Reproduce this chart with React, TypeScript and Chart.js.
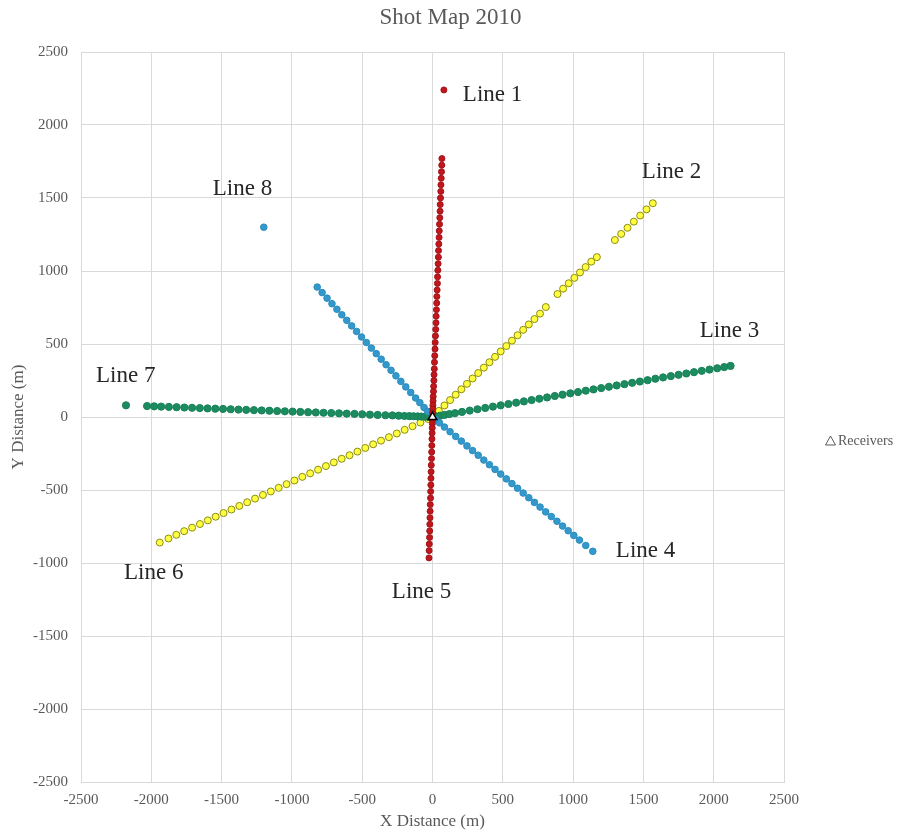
import React, { useEffect, useRef } from "react";
import { Chart, registerables } from "chart.js";

Chart.register(...registerables);

// ---- Data (metres) ----
const line1X = [81, 67, 66, 64, 62, 60, 59, 57, 55, 54, 52, 50, 48, 47, 45, 43, 42, 40, 38, 36, 35, 33, 31, 30, 28, 26, 25, 23, 21, 19, 18, 16, 14, 13, 11, 10, 8, 7, 5, 4, 3, 2, 1];
const line1Y = [2240, 1770, 1725, 1680, 1635, 1590, 1545, 1500, 1455, 1410, 1365, 1320, 1275, 1230, 1185, 1140, 1095, 1050, 1005, 960, 915, 870, 825, 780, 735, 690, 645, 600, 555, 510, 465, 420, 375, 330, 290, 250, 210, 175, 140, 110, 80, 55, 30];

const line2X = [45, 85, 125, 165, 205, 245, 285, 325, 365, 405, 445, 485, 525, 565, 605, 645, 685, 725, 765, 806, 889, 929, 969, 1009, 1049, 1089, 1129, 1169, 1297, 1342, 1387, 1432, 1477, 1522, 1567];
const line2Y = [42, 79, 116, 153, 190, 227, 264, 301, 338, 375, 412, 449, 486, 523, 560, 597, 634, 671, 708, 753, 842, 879, 916, 953, 990, 1027, 1064, 1095, 1212, 1254, 1296, 1338, 1380, 1422, 1464];

const line3X = [25, 55, 85, 120, 160, 210, 265, 320, 375, 430, 485, 540, 595, 650, 705, 760, 815, 870, 925, 980, 1035, 1090, 1145, 1200, 1255, 1310, 1365, 1420, 1475, 1530, 1585, 1640, 1695, 1750, 1805, 1860, 1915, 1970, 2025, 2075, 2120];
const line3Y = [4, 9, 14, 20, 26, 35, 44, 53, 62, 71, 80, 89, 98, 107, 116, 125, 134, 144, 153, 162, 171, 180, 189, 198, 207, 216, 225, 234, 243, 252, 262, 271, 280, 289, 298, 307, 316, 325, 334, 342, 350];

const line4X = [20, 50, 85, 125, 165, 205, 245, 285, 325, 365, 405, 445, 485, 525, 565, 605, 645, 685, 725, 765, 805, 845, 885, 925, 965, 1005, 1045, 1090, 1140];
const line4Y = [-16, -40, -69, -101, -133, -165, -198, -230, -262, -295, -327, -359, -391, -424, -456, -488, -521, -553, -585, -617, -650, -682, -714, -747, -779, -811, -843, -880, -920];

const line5X = [-1, -1, -2, -3, -4, -5, -6, -7, -9, -10, -11, -12, -13, -14, -16, -17, -18, -19, -20, -21, -23, -24, -25];
const line5Y = [-20, -45, -75, -110, -150, -195, -240, -285, -330, -375, -420, -465, -510, -555, -600, -645, -690, -735, -780, -825, -870, -915, -965];

const line6X = [-30, -86, -142, -198, -254, -310, -366, -422, -478, -534, -590, -646, -702, -758, -814, -870, -926, -982, -1038, -1094, -1150, -1206, -1262, -1318, -1374, -1430, -1486, -1542, -1598, -1654, -1710, -1766, -1822, -1878, -1940];
const line6Y = [-14, -38, -63, -88, -113, -138, -162, -187, -212, -237, -262, -286, -311, -336, -361, -386, -410, -435, -460, -485, -510, -534, -559, -584, -609, -634, -658, -683, -708, -733, -758, -782, -807, -832, -860];

const line7X = [-2180, -2030, -1980, -1930, -1875, -1820, -1765, -1710, -1655, -1600, -1545, -1490, -1435, -1380, -1325, -1270, -1215, -1160, -1105, -1050, -995, -940, -885, -830, -775, -720, -665, -610, -555, -500, -445, -390, -335, -285, -240, -200, -165, -135, -105, -80, -55, -30];
const line7Y = [80, 75, 73, 71, 69, 67, 65, 63, 61, 59, 57, 55, 53, 51, 49, 47, 45, 43, 41, 39, 37, 35, 33, 31, 29, 27, 25, 23, 21, 19, 16, 14, 12, 11, 9, 7, 6, 5, 4, 3, 2, 1];

const line8X = [-1200, -820, -785, -750, -715, -680, -645, -610, -575, -540, -505, -470, -435, -400, -365, -330, -295, -260, -225, -190, -155, -120, -90, -60, -35];
const line8Y = [1300, 890, 852, 814, 776, 738, 700, 662, 624, 586, 548, 510, 472, 434, 396, 358, 320, 282, 244, 206, 168, 130, 98, 65, 38];

const receiverX = [0];
const receiverY = [0];

const lineLabels = ["Line 1", "Line 2", "Line 3", "Line 4", "Line 5", "Line 6", "Line 7", "Line 8"];
const lineLabelX = [216, 1489, 1901, 1304, -289, -2194, -2393, -1563];
const lineLabelY = [2206, 1678, 589, -918, -1199, -1069, 281, 1562];

const chartTitle = "Shot Map 2010";

const axisMin = -2500;
const axisMax = 2500;
const axisStep = 500;

const RED = "#C0161C";
const RED_B = "#A01218";
const YEL = "#FFFF40";
const YEL_B = "#8C8A10";
const GRN = "#1C8C5E";
const GRN_B = "#17805A";
const BLU = "#3399CC";
const BLU_B = "#2A8CBD";

const SERIF = '"Liberation Serif", "Times New Roman", serif';

function pts(xs: number[], ys: number[]) {
  return xs.map((x, i) => ({ x, y: ys[i] }));
}

const labelPlugin = {
  id: "lineLabels",
  afterDatasetsDraw(chart: any) {
    const { ctx, scales } = chart;
    ctx.save();
    ctx.font = `23px ${SERIF}`;
    ctx.fillStyle = "#262626";
    ctx.textAlign = "left";
    ctx.textBaseline = "middle";
    lineLabels.forEach((t, i) => {
      ctx.fillText(t, scales.x.getPixelForValue(lineLabelX[i]), scales.y.getPixelForValue(lineLabelY[i]));
    });
    ctx.restore();
  },
};

const titleAndLegendPlugin = {
  id: "titleLegend",
  afterDraw(chart: any) {
    const { ctx, width } = chart;
    ctx.save();
    // title centred on the whole canvas
    ctx.font = `23px ${SERIF}`;
    ctx.fillStyle = "#595959";
    ctx.textAlign = "center";
    ctx.textBaseline = "middle";
    ctx.fillText(chartTitle, width / 2, 18);
    // legend
    const cy = 441;
    const tx = 826;
    ctx.strokeStyle = "#595959";
    ctx.lineWidth = 1;
    ctx.beginPath();
    ctx.moveTo(tx + 4.5, cy - 5);
    ctx.lineTo(tx + 9.5, cy + 4);
    ctx.lineTo(tx - 0.5, cy + 4);
    ctx.closePath();
    ctx.stroke();
    ctx.font = `14px ${SERIF}`;
    ctx.textAlign = "left";
    ctx.fillText("Receivers", tx + 12, cy);
    ctx.restore();
  },
};

const plainTick = (v: any) => String(v);

export default function App() {
  const ref = useRef<HTMLCanvasElement | null>(null);

  useEffect(() => {
    if (!ref.current) return;
    const mk = (label: string, xs: number[], ys: number[], bg: string, bd: string, r: number) => ({
      label,
      data: pts(xs, ys),
      backgroundColor: bg,
      borderColor: bd,
      borderWidth: 1,
      pointRadius: r,
      pointHoverRadius: r,
      showLine: false,
    });
    const chart = new Chart(ref.current, {
      type: "scatter",
      data: {
        datasets: [
          {
            label: "Receivers",
            data: pts(receiverX, receiverY),
            backgroundColor: "#FFFFFF",
            borderColor: "#000000",
            borderWidth: 1.5,
            pointStyle: "triangle",
            pointRadius: 5,
            pointHoverRadius: 5,
          },
          mk("Line 1", line1X, line1Y, RED, RED_B, 3),
          mk("Line 5", line5X, line5Y, RED, RED_B, 3),
          mk("Line 4", line4X, line4Y, BLU, BLU_B, 3.3),
          mk("Line 8", line8X, line8Y, BLU, BLU_B, 3.3),
          mk("Line 3", line3X, line3Y, GRN, GRN_B, 3.6),
          mk("Line 7", line7X, line7Y, GRN, GRN_B, 3.6),
          mk("Line 2", line2X, line2Y, YEL, YEL_B, 3.5),
          mk("Line 6", line6X, line6Y, YEL, YEL_B, 3.5),
        ],
      },
      options: {
        responsive: false,
        animation: false,
        events: [],
        layout: { padding: { left: 0, right: 117, top: 52, bottom: 0 } },
        plugins: {
          legend: { display: false },
          tooltip: { enabled: false },
          title: { display: false },
        },
        scales: {
          x: {
            type: "linear",
            min: axisMin,
            max: axisMax,
            afterFit: (s: any) => {
              s.height = 56;
            },
            ticks: {
              stepSize: axisStep,
              color: "#595959",
              font: { family: SERIF, size: 15 },
              padding: 9,
              callback: plainTick,
            },
            grid: { color: "#D9D9D9", drawTicks: false, lineWidth: 1 },
            border: { color: "#D9D9D9" },
            title: {
              display: true,
              text: "X Distance (m)",
              color: "#595959",
              font: { family: SERIF, size: 17 },
              padding: { top: 4, bottom: 6 },
            },
          },
          y: {
            type: "linear",
            min: axisMin,
            max: axisMax,
            afterFit: (s: any) => {
              s.width = 81;
            },
            ticks: {
              stepSize: axisStep,
              color: "#595959",
              font: { family: SERIF, size: 15 },
              padding: 13,
              callback: plainTick,
            },
            grid: { color: "#D9D9D9", drawTicks: false, lineWidth: 1 },
            border: { color: "#D9D9D9" },
            title: {
              display: true,
              text: "Y Distance (m)",
              color: "#595959",
              font: { family: SERIF, size: 17 },
              padding: { top: 8, bottom: 4 },
            },
          },
        },
      } as any,
      plugins: [labelPlugin, titleAndLegendPlugin],
    });
    return () => chart.destroy();
  }, []);

  return (
    <div style={{ position: "absolute", left: 0, top: 0, width: 901, height: 838, background: "#fff" }}>
      <canvas ref={ref} width={901} height={838} style={{ display: "block" }} />
    </div>
  );
}
